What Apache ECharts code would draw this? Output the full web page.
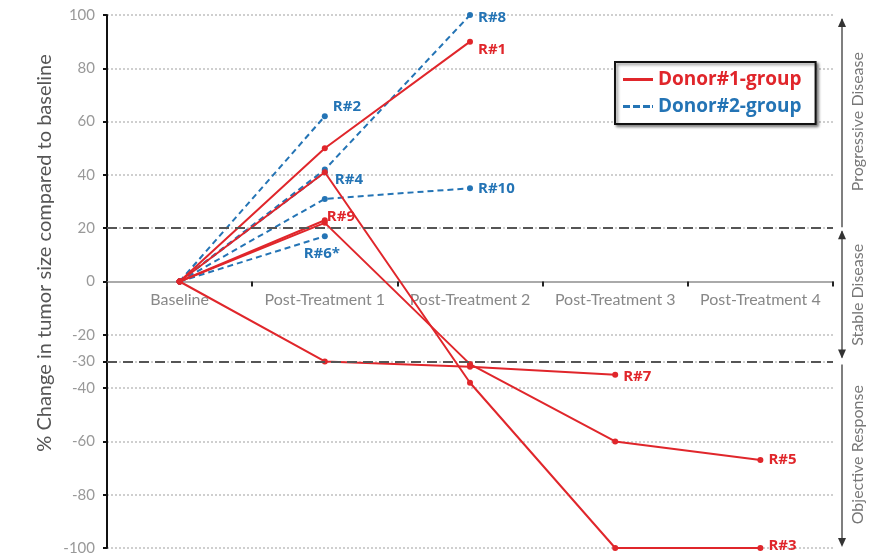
<!DOCTYPE html>
<html>
<head>
<meta charset="utf-8">
<title>Tumor size change</title>
<script src="https://cdn.jsdelivr.net/npm/echarts@6/dist/echarts.min.js"></script>
<style>
  html, body { margin: 0; padding: 0; background: #fff; }
  #chart { width: 869px; height: 558px; }
</style>
</head>
<body>
<div id="chart"></div>
<script>
const categories = ['Baseline', 'Post-Treatment 1', 'Post-Treatment 2', 'Post-Treatment 3', 'Post-Treatment 4'];
const yTickValues = [100, 80, 60, 40, 20, 0, -20, -30, -40, -60, -80, -100];
const thresholds = [20, -30];
const zoneBounds = [100, 20, -30, -100];
const zoneNames = ['Progressive Disease', 'Stable Disease', 'Objective Response'];
const groupNames = ['Donor#1-group', 'Donor#2-group'];
const yAxisTitle = '% Change in tumor size compared to baseline';
const yMin = -100;
const yMax = 100;

// Donor#1 group (red, solid)
const r1 = [0, 50, 90];
const r3 = [0, 41, -38, -100, -100];
const r5 = [0, 22, -31, -60, -67];
const r7 = [0, -30, -32, -35];
const r9 = [0, 23];

// Donor#2 group (blue, dashed)
const r2 = [0, 62];
const r4 = [0, 41];
const r6 = [0, 17];
const r8 = [0, 42, 100];
const r10 = [0, 31, 35];

const donor1 = [['R#1', r1], ['R#3', r3], ['R#5', r5], ['R#7', r7], ['R#9', r9]];
const donor2 = [['R#2', r2], ['R#4', r4], ['R#6*', r6], ['R#8', r8], ['R#10', r10]];

const RED = '#e0262b';
const BLUE = '#2474b5';

// where each end label sits relative to its last point
const labelPlacement = {
  'R#1': { position: 'right', offset: [0, 8] },
  'R#3': { position: 'right', offset: [0, -2] },
  'R#5': { position: 'right', offset: [0, 0] },
  'R#7': { position: 'right', offset: [0, 2] },
  'R#9': { position: 'right', offset: [-6, -3] },
  'R#2': { position: 'right', offset: [0, -10] },
  'R#4': { position: 'right', offset: [2, 7] },
  'R#6*': { position: 'bottom', offset: [-3, 2] },
  'R#8': { position: 'right', offset: [0, 3] },
  'R#10': { position: 'right', offset: [0, 1] },
};

function makeSeries(name, values, color, dashed) {
  const last = values.length - 1;
  return {
    name: name,
    type: 'line',
    data: values.map((v, i) => i === last
      ? { value: v, label: Object.assign({ show: true }, labelPlacement[name]) }
      : v),
    symbol: 'circle',
    symbolSize: 6,
    color: color,
    itemStyle: { color: color },
    lineStyle: { color: color, width: 2, type: dashed ? [6, 4] : 'solid' },
    label: {
      show: false,
      formatter: name,
      color: color,
      fontSize: 15,
      fontWeight: 'bold',
      fontFamily: 'Open Sans',
    },
    z: dashed ? 3 : 4,
  };
}

const series = [
  // legend-only entries
  { name: groupNames[0], type: 'line', data: [], symbol: 'none', lineStyle: { color: RED, width: 2 }, itemStyle: { color: RED } },
  { name: groupNames[1], type: 'line', data: [], symbol: 'none', lineStyle: { color: BLUE, width: 2, type: [5, 3] }, itemStyle: { color: BLUE } },
]
  .concat(donor2.map(([n, v]) => makeSeries(n, v, BLUE, true)))
  .concat(donor1.map(([n, v]) => makeSeries(n, v, RED, false)));

// threshold lines at +20 and -30
series[2].markLine = {
  silent: true,
  symbol: 'none',
  label: { show: false },
  lineStyle: { color: '#555', width: 2, type: [10, 6] },
  data: thresholds.map(t => ({ yAxis: t })),
};

const gridTop = 15;
const gridBottom = 10;
const plotH = 558 - gridTop - gridBottom;
// lift the category axis up to the zero line
const xOffset = -plotH * (0 - yMin) / (yMax - yMin);

const chart = echarts.init(document.getElementById('chart'));
chart.setOption({
  animation: false,
  backgroundColor: '#fff',
  grid: { left: 107, right: 36, top: gridTop, bottom: gridBottom },
  legend: {
    data: [
      { name: groupNames[0], icon: 'path://M0,0h30v3h-30z', textStyle: { color: RED } },
      { name: groupNames[1], icon: 'path://M0,0h7v3h-7z M10,0h7v3h-7z M20,0h7v3h-7z M29,0h1v3h-1z', textStyle: { color: BLUE } },
    ],
    orient: 'vertical',
    left: 615,
    top: 62,
    itemWidth: 30,
    itemHeight: 3,
    itemGap: 8,
    padding: [8, 14, 8, 8],
    backgroundColor: '#fff',
    borderColor: '#111',
    borderWidth: 2,
    borderRadius: 0,
    shadowColor: 'rgba(0,0,0,0.45)',
    shadowBlur: 3,
    shadowOffsetX: 2,
    shadowOffsetY: 2,
    textStyle: { fontSize: 19, fontWeight: 'bold', fontFamily: 'Open Sans' },
  },
  xAxis: {
    type: 'category',
    data: categories,
    boundaryGap: true,
    offset: xOffset,
    axisLine: { onZero: false, lineStyle: { color: '#aaa', width: 2 } },
    axisTick: { show: true, length: 5, lineStyle: { color: '#222', width: 2 } },
    axisLabel: { interval: 0, color: '#888', fontSize: 16, fontFamily: 'Lato', margin: 10 },
  },
  yAxis: {
    type: 'value',
    min: yMin,
    max: yMax,
    interval: 20,
    axisLine: { show: true, lineStyle: { color: '#111', width: 2 } },
    axisTick: { show: true, customValues: yTickValues, length: 4, lineStyle: { color: '#111', width: 2 } },
    axisLabel: { customValues: yTickValues, color: '#999', fontSize: 15, fontFamily: 'Lato', margin: 12 },
    splitLine: { lineStyle: { color: '#cfcfcf', width: 2, type: [2, 2] } },
  },
  series: series,
});

// side annotations: y-axis title and response-zone arrows
function drawAnnotations() {
  const py = v => chart.convertToPixel({ yAxisIndex: 0 }, v);
  const ax = 842;
  const gray = '#555';
  const head = (tipY, up) => ({
    type: 'polygon',
    shape: { points: up
      ? [[ax, tipY], [ax - 4, tipY + 9], [ax + 4, tipY + 9]]
      : [[ax, tipY], [ax - 4, tipY - 9], [ax + 4, tipY - 9]] },
    style: { fill: '#333' },
  });
  const seg = (y1, y2) => ({
    type: 'line',
    shape: { x1: ax, y1: y1, x2: ax, y2: y2 },
    style: { stroke: gray, lineWidth: 1.5 },
  });
  const yTop = py(zoneBounds[0]);
  const yPd = py(zoneBounds[1]);
  const ySd = py(zoneBounds[2]);
  const yBot = py(zoneBounds[3]);
  const elements = [
    seg(yTop + 4, yPd - 1), head(yTop + 3, true),
    seg(yPd + 3, ySd - 4), head(yPd + 2, true), head(ySd - 3, false),
    seg(ySd + 3, yBot - 4), head(yBot - 1, false),
  ];
  const centers = [(yTop + yPd) / 2, (yPd + ySd) / 2, (ySd + yBot) / 2];
  zoneNames.forEach((n, i) => {
    elements.push({
      type: 'text',
      x: 858,
      y: centers[i],
      rotation: Math.PI / 2,
      style: { text: n, fill: '#777', font: '16px Lato', align: 'center', verticalAlign: 'middle' },
    });
  });
  elements.push({
    type: 'text',
    x: 45,
    y: 253,
    rotation: Math.PI / 2,
    style: { text: yAxisTitle, fill: '#555', font: '20px Lato', align: 'center', verticalAlign: 'middle' },
  });
  chart.setOption({ graphic: { elements: elements } });
}
drawAnnotations();
</script>
</body>
</html>
